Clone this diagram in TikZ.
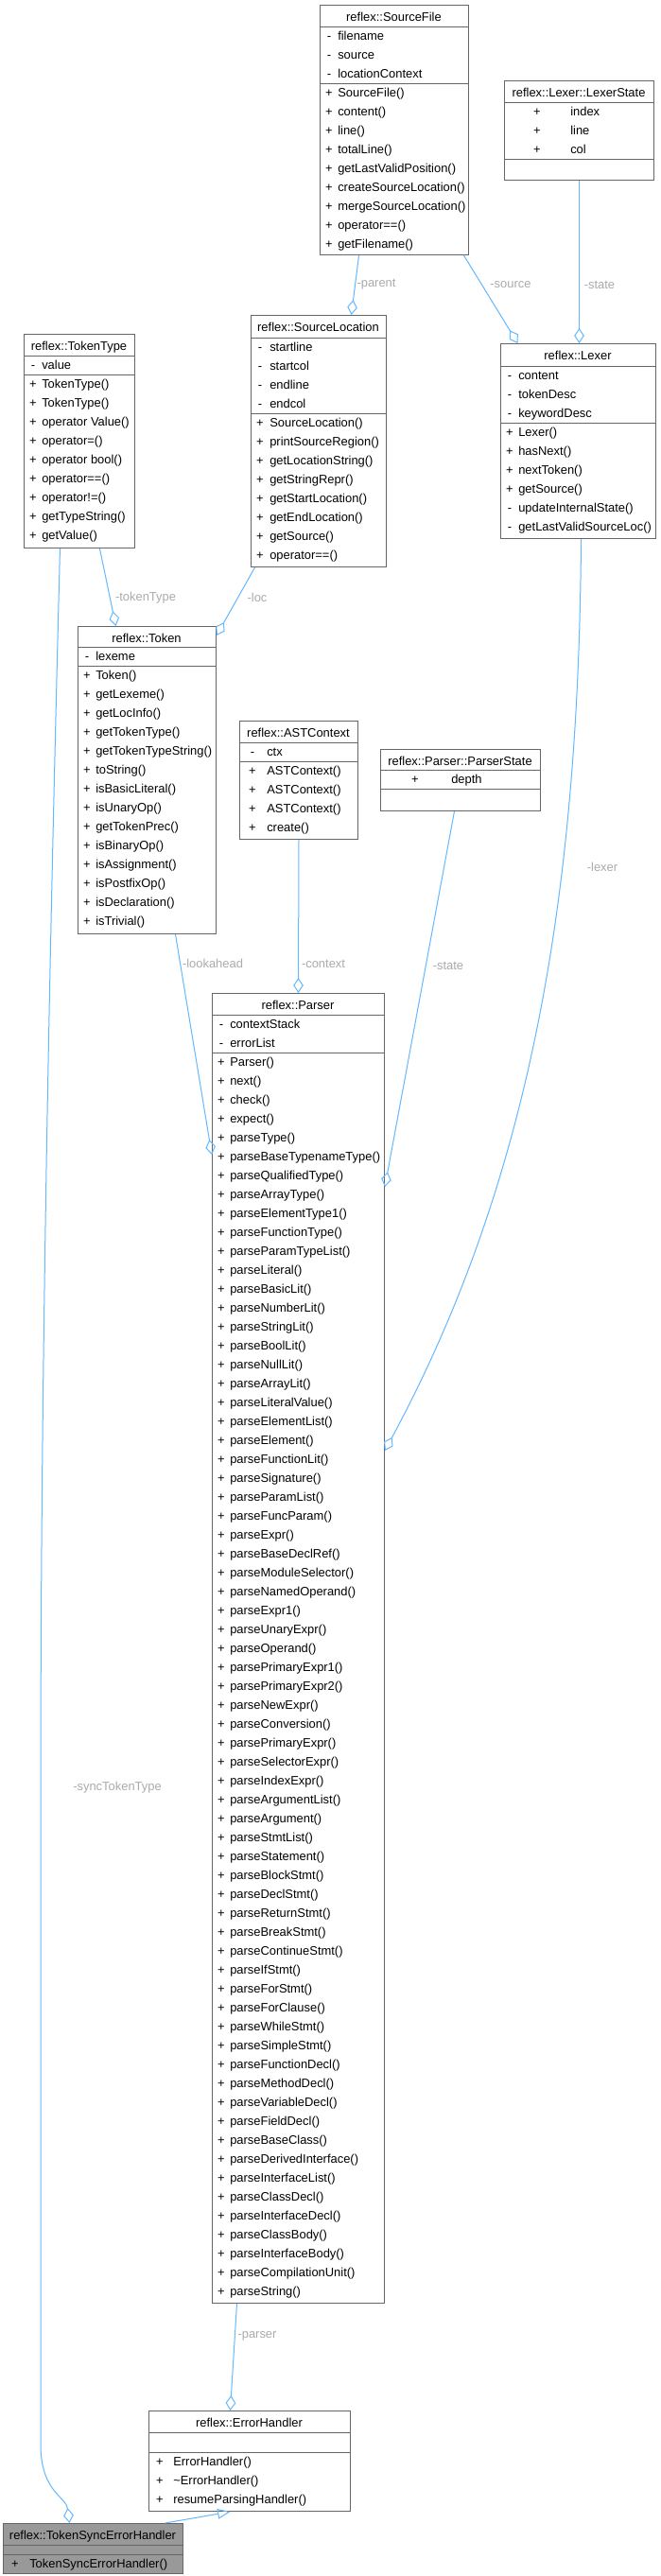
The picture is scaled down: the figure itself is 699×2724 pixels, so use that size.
\documentclass[tikz,border=0pt]{standalone}
\usepackage{fontspec}
\setmainfont{Liberation Sans}
\usetikzlibrary{arrows.meta}
\definecolor{edgeblue}{HTML}{63B8FF}
\definecolor{boxgray}{HTML}{666666}
\definecolor{labelgray}{HTML}{ABABAB}
\definecolor{mainfill}{HTML}{999999}
\tikzset{
  cls/.style={rectangle, draw=boxgray, line width=0.75pt, fill=white, inner sep=0pt, anchor=north west},
  mainc/.style={cls, fill=mainfill},
  sepline/.style={draw=boxgray, line width=0.75pt},
  ctitle/.style={anchor=base, inner sep=0pt, font=\fontsize{9.7}{12}\selectfont},
  sgn/.style={anchor=base, inner sep=0pt, font=\fontsize{9.7}{12}\selectfont},
  mbr/.style={anchor=base west, inner sep=0pt, font=\fontsize{9.7}{12}\selectfont},
  elabel/.style={inner sep=0pt, text=labelgray, font=\fontsize{9.7}{12}\selectfont},
  agg/.style={draw=edgeblue, line width=0.75pt, -{Diamond[open, length=12pt, width=8pt]}},
  inh/.style={draw=edgeblue, line width=0.75pt, -{Triangle[open, length=10pt, width=8pt]}}
}
% box: id, left, top, right, bottom, title
\newcommand\umlclass[7][cls]{%
  \node[#1, minimum width={(#5-#3)*0.75pt}, minimum height={(#6-#4)*0.75pt}] (#2) at (#3,#4) {};
  \node[ctitle] (#2-t) at ({(#3+#5)/2},#4+17) {#7};}
% rows: id, left, section top, sign offset, name offset, sign/name list
\newcommand\members[6]{%
  \foreach \sg/\nm [count=\k] in {#6} {
    \node[sgn] (#1-s\k) at (#2+#4,#3+20*\k-5.3) {\sg};
    \node[mbr] (#1-n\k) at (#2+#5,#3+20*\k-5.3) {\nm};
  }}

\begin{document}
\begin{tikzpicture}[x=0.75pt, y=-0.75pt]
\fill[white] (0,0) rectangle (699,2724);
\useasboundingbox (0,0) rectangle (699,2724);

\umlclass{srcfile}{338}{5}{495}{269}{reflex::SourceFile}
\draw[sepline] (338,28) -- (495,28);
\draw[sepline] (338,88) -- (495,88);
\members{srcfile-a}{338}{28}{10}{19}{-/filename, -/source, -/locationContext}
\members{srcfile-m}{338}{88}{10}{19}{+/SourceFile(), +/content(), +/line(), +/totalLine(), +/getLastValidPosition(), +/createSourceLocation(), +/mergeSourceLocation(), +/operator==(), +/getFilename()}

\umlclass{lexstate}{533}{85}{691}{190}{reflex::Lexer::LexerState}
\draw[sepline] (533,108) -- (691,108);
\draw[sepline] (533,168) -- (691,168);
\members{lexstate-a}{533}{108}{35}{70}{+/index, +/line, +/col}

\umlclass{toktype}{25}{353}{142}{579}{reflex::TokenType}
\draw[sepline] (25,376) -- (142,376);
\draw[sepline] (25,396) -- (142,396);
\members{toktype-a}{25}{376}{10}{19}{-/value}
\members{toktype-m}{25}{396}{10}{19}{+/TokenType(), +/TokenType(), +/operator Value(), +/operator=(), +/operator bool(), +/operator==(), +/operator!=(), +/getTypeString(), +/getValue()}

\umlclass{srcloc}{265}{333}{408}{599}{reflex::SourceLocation}
\draw[sepline] (265,357) -- (408,357);
\draw[sepline] (265,437) -- (408,437);
\members{srcloc-a}{265}{357}{10}{20}{-/startline, -/startcol, -/endline, -/endcol}
\members{srcloc-m}{265}{437}{10}{20}{+/SourceLocation(), +/printSourceRegion(), +/getLocationString(), +/getStringRepr(), +/getStartLocation(), +/getEndLocation(), +/getSource(), +/operator==()}

\umlclass{lexer}{529}{363}{693}{569}{reflex::Lexer}
\draw[sepline] (529,387) -- (693,387);
\draw[sepline] (529,447) -- (693,447);
\members{lexer-a}{529}{387}{10}{19}{-/content, -/tokenDesc, -/keywordDesc}
\members{lexer-m}{529}{447}{10}{19}{+/Lexer(), +/hasNext(), +/nextToken(), +/getSource(), -/updateInternalState(), -/getLastValidSourceLoc()}

\umlclass{token}{82}{662}{228}{987}{reflex::Token}
\draw[sepline] (82,684) -- (228,684);
\draw[sepline] (82,704) -- (228,704);
\members{token-a}{82}{684}{10}{19}{-/lexeme}
\members{token-m}{82}{704}{10}{19}{+/Token(), +/getLexeme(), +/getLocInfo(), +/getTokenType(), +/getTokenTypeString(), +/toString(), +/isBasicLiteral(), +/isUnaryOp(), +/getTokenPrec(), +/isBinaryOp(), +/isAssignment(), +/isPostfixOp(), +/isDeclaration(), +/isTrivial()}

\umlclass{astctx}{253}{762}{378}{887}{reflex::ASTContext}
\draw[sepline] (253,785) -- (378,785);
\draw[sepline] (253,805) -- (378,805);
\members{astctx-a}{253}{785}{14}{29}{-/ctx}
\members{astctx-m}{253}{805}{14}{29}{+/ASTContext(), +/ASTContext(), +/ASTContext(), +/create()}

\umlclass{pstate}{402}{792}{571}{857}{reflex::Parser::ParserState}
\draw[sepline] (402,814) -- (571,814);
\draw[sepline] (402,834) -- (571,834);
\members{pstate-a}{402}{814}{37}{75}{+/depth}

\umlclass{parser}{224}{1050}{406}{2435}{reflex::Parser}
\draw[sepline] (224,1073) -- (406,1073);
\draw[sepline] (224,1113) -- (406,1113);
\members{parser-a}{224}{1073}{10}{19}{-/contextStack, -/errorList}
\members{parser-m}{224}{1113}{10}{19}{+/Parser(), +/next(), +/check(), +/expect(), +/parseType(), +/parseBaseTypenameType(), +/parseQualifiedType(), +/parseArrayType(), +/parseElementType1(), +/parseFunctionType(), +/parseParamTypeList(), +/parseLiteral(), +/parseBasicLit(), +/parseNumberLit(), +/parseStringLit(), +/parseBoolLit(), +/parseNullLit(), +/parseArrayLit(), +/parseLiteralValue(), +/parseElementList(), +/parseElement(), +/parseFunctionLit(), +/parseSignature(), +/parseParamList(), +/parseFuncParam(), +/parseExpr(), +/parseBaseDeclRef(), +/parseModuleSelector(), +/parseNamedOperand(), +/parseExpr1(), +/parseUnaryExpr(), +/parseOperand(), +/parsePrimaryExpr1(), +/parsePrimaryExpr2(), +/parseNewExpr(), +/parseConversion(), +/parsePrimaryExpr(), +/parseSelectorExpr(), +/parseIndexExpr(), +/parseArgumentList(), +/parseArgument(), +/parseStmtList(), +/parseStatement(), +/parseBlockStmt(), +/parseDeclStmt(), +/parseReturnStmt(), +/parseBreakStmt(), +/parseContinueStmt(), +/parseIfStmt(), +/parseForStmt(), +/parseForClause(), +/parseWhileStmt(), +/parseSimpleStmt(), +/parseFunctionDecl(), +/parseMethodDecl(), +/parseVariableDecl(), +/parseFieldDecl(), +/parseBaseClass(), +/parseDerivedInterface(), +/parseInterfaceList(), +/parseClassDecl(), +/parseInterfaceDecl(), +/parseClassBody(), +/parseInterfaceBody(), +/parseCompilationUnit(), +/parseString()}

\umlclass{errh}{157}{2549}{370}{2655}{reflex::ErrorHandler}
\draw[sepline] (157,2572) -- (370,2572);
\draw[sepline] (157,2593) -- (370,2593);
\members{errh-m}{157}{2593}{12}{26}{+/ErrorHandler(), +/\textasciitilde ErrorHandler(), +/resumeParsingHandler()}

\umlclass[mainc]{tsync}{3}{2668}{193}{2721}{reflex::TokenSyncErrorHandler}
\draw[sepline] (3,2691) -- (193,2691);
\draw[sepline] (3,2701) -- (193,2701);
\members{tsync-m}{3}{2701}{13}{28}{+/TokenSyncErrorHandler()}

% connectors
\draw[agg] ([xshift=-28.1pt]srcfile.south) -- ([xshift=25.9pt]srcloc.north);
\draw[agg] ([xshift=55.1pt]srcfile.south) -- ([xshift=-48pt]lexer.north);
\draw[agg] (lexstate.south) -- ([xshift=0.75pt]lexer.north);
\draw[agg] ([xshift=16.1pt]toktype.south) -- ([xshift=-24.75pt]token.north);
\draw[agg] ([xshift=-50.6pt]srcloc.south) -- ([yshift=-7.5pt]token.north east);
\draw[agg] ([xshift=-15.4pt]toktype.south) .. controls (50,1100) and (43,1500) .. (43,1900)
  -- (43,2585) .. controls (43,2635) and (70,2640) .. ([xshift=-18.75pt]tsync.north);
\draw[agg] ([xshift=22.5pt]token.south) -- ([yshift=-128.25pt]parser.north west);
\draw[agg] (astctx.south) -- (parser.north);
\draw[agg] ([xshift=-4.9pt]pstate.south) -- ([yshift=-153.75pt]parser.north east);
\draw[agg] ([xshift=2.25pt]lexer.south) .. controls (612,950) and (560,1250) .. ([yshift=-363pt]parser.north east);
\draw[agg] ([xshift=-48.75pt]parser.south) -- ([xshift=-15.4pt]errh.north);
\draw[inh] ([xshift=57pt]tsync.north) -- ([xshift=-15.4pt]errh.south);

\node[elabel] (l-parent) at (398,301) {-parent};
\node[elabel] (l-source) at (540,301) {-source};
\node[elabel] (l-lstate) at (634,301) {-state};
\node[elabel] (l-toktype) at (154,632) {-tokenType};
\node[elabel] (l-loc) at (272,632) {-loc};
\node[elabel] (l-lexer) at (637,917) {-lexer};
\node[elabel] (l-look) at (225,1019) {-lookahead};
\node[elabel] (l-ctx) at (342,1019) {-context};
\node[elabel] (l-pstate) at (474,1021) {-state};
\node[elabel] (l-sync) at (124,1890) {-syncTokenType};
\node[elabel] (l-parser) at (272,2470) {-parser};
\end{tikzpicture}
\end{document}
